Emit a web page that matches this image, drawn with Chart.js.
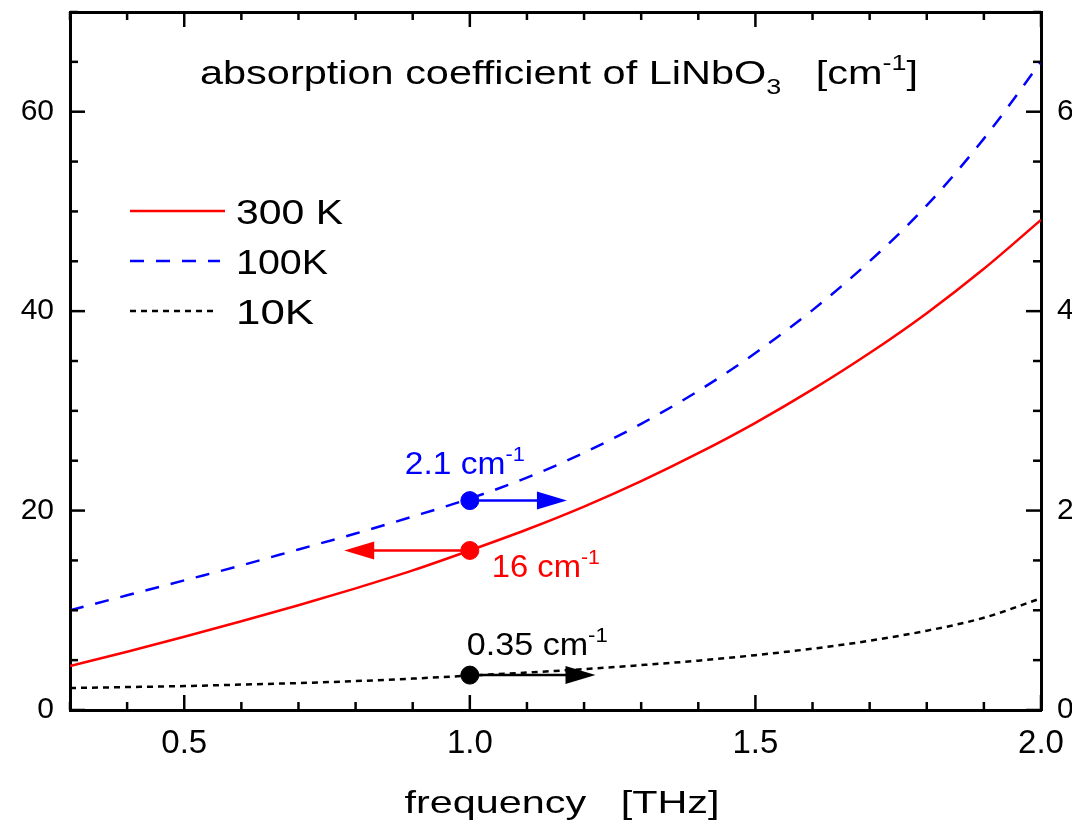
<!DOCTYPE html>
<html>
<head>
<meta charset="utf-8">
<script src="https://cdn.jsdelivr.net/npm/chart.js@4/dist/chart.umd.min.js"></script>
<style>
body { margin: 0; background: #fff; }
</style>
</head>
<body>
<canvas id="myChart" width="1072" height="827"></canvas>
<script>
// values
const freq    = [0.3, 0.4, 0.5, 0.6, 0.7, 0.8, 0.9, 1.0, 1.1, 1.2, 1.3, 1.4, 1.5, 1.6, 1.7, 1.8, 1.9, 2.0];
const abs300K = [4.4, 5.85, 7.35, 8.9, 10.5, 12.2, 14.0, 16.0, 18.1, 20.4, 22.95, 25.75, 28.8, 32.15, 35.8, 39.8, 44.25, 49.15]; // left axis
const abs100K = [1.00, 1.15, 1.30, 1.45, 1.61, 1.77, 1.94, 2.12, 2.33, 2.58, 2.87, 3.20, 3.58, 4.01, 4.50, 5.06, 5.73, 6.50]; // right axis
const abs10K  = [0.22, 0.23, 0.24, 0.255, 0.27, 0.29, 0.315, 0.345, 0.375, 0.41, 0.45, 0.495, 0.55, 0.615, 0.695, 0.795, 0.925, 1.12]; // right axis

const seriesNames  = ['300 K', '100K', '10K'];
const xTicks       = [0.5, 1.0, 1.5, 2.0];
const yLeftTicks   = [0, 20, 40, 60];
const yRightTicks  = [0, 2, 4, 6];

// marked points at 1 THz, arrows point to the axis each curve belongs to
const markFreq   = 1.0;
const markValues = [16, 2.1, 0.35];
const arrowEnds  = [0.78, 1.17, 1.22];
const markTexts  = ['16 cm', '2.1 cm', '0.35 cm'];

const RED = 'rgb(255,0,0)', BLUE = 'rgb(0,0,255)', BLACK = '#000';
const FONT = '"Liberation Sans", Arial, sans-serif';

function pts(ys) {
    return freq.map((f, i) => ({x: f, y: ys[i]}));
}

// text with sub / superscripts, optionally stretched to a given width
function drawRich(ctx, parts, x, y, size, color, width, center) {
    ctx.save();
    ctx.fillStyle = color;
    ctx.textBaseline = 'alphabetic';
    ctx.textAlign = 'left';
    const items = parts.map(p => {
        let s = size, dy = 0;
        if (p.sup) { s = size * 0.65; dy = -size * 0.42; }
        if (p.sub) { s = size * 0.65; dy = size * 0.3; }
        ctx.font = s + 'px ' + FONT;
        return {t: p.t, font: ctx.font, dy: dy, w: ctx.measureText(p.t).width};
    });
    const total = items.reduce((a, b) => a + b.w, 0);
    const sx = width ? width / total : 1;
    ctx.translate(center ? x - total * sx / 2 : x, y);
    ctx.scale(sx, 1);
    let cx = 0;
    items.forEach(it => {
        ctx.font = it.font;
        ctx.fillText(it.t, cx, it.dy);
        cx += it.w;
    });
    ctx.restore();
}

function line(ctx, x1, y1, x2, y2) {
    ctx.beginPath(); ctx.moveTo(x1, y1); ctx.lineTo(x2, y2); ctx.stroke();
}

function noPad(s) {
    s.paddingLeft = 0; s.paddingRight = 0; s.paddingTop = 0; s.paddingBottom = 0;
}

const extras = {
    id: 'extras',
    afterDatasetsDraw(chart) {
        const {ctx, chartArea: a, scales} = chart;
        const xs = scales.x, yl = scales.y, yr = scales.y2;
        ctx.save();

        // inward tick marks on all four sides
        ctx.strokeStyle = BLACK;
        ctx.lineWidth = 2.5;
        for (let i = 3; i <= 20; i++) {
            const px = xs.getPixelForValue(i / 10);
            const len = i % 5 == 0 ? 15 : 8;
            line(ctx, px, a.bottom, px, a.bottom - len);
            line(ctx, px, a.top, px, a.top + len);
        }
        for (let v = 0; v <= 70; v += 5) {
            const len = v % 20 == 0 ? 15 : 8;
            const py = yl.getPixelForValue(v);
            line(ctx, a.left, py, a.left + len, py);
            const pr = yr.getPixelForValue(v / 10);
            line(ctx, a.right, pr, a.right - len, pr);
        }

        // arrows from the marked points
        const colors = [RED, BLUE, BLACK];
        const axes = [yl, yr, yr];
        markValues.forEach((v, i) => {
            const x0 = xs.getPixelForValue(markFreq);
            const x1 = xs.getPixelForValue(arrowEnds[i]);
            const py = axes[i].getPixelForValue(v);
            const dir = x1 > x0 ? 1 : -1;
            ctx.strokeStyle = colors[i];
            ctx.fillStyle = colors[i];
            ctx.lineWidth = 2.5;
            line(ctx, x0, py, x1 - dir * 25, py);
            ctx.beginPath();
            ctx.moveTo(x1, py);
            ctx.lineTo(x1 - dir * 30, py - 9);
            ctx.lineTo(x1 - dir * 30, py + 9);
            ctx.closePath();
            ctx.fill();
        });

        // labels of the marked points
        const mx = xs.getPixelForValue(markFreq);
        drawRich(ctx, [{t: markTexts[0]}, {t: '-1', sup: true}], mx + 22, yl.getPixelForValue(markValues[0]) + 27, 31, RED, 108);
        drawRich(ctx, [{t: markTexts[1]}, {t: '-1', sup: true}], mx - 65, yr.getPixelForValue(markValues[1]) - 27, 31, BLUE, 120);
        drawRich(ctx, [{t: markTexts[2]}, {t: '-1', sup: true}], mx - 3, yr.getPixelForValue(markValues[2]) - 20, 31, BLACK, 141);

        // title inside the frame
        drawRich(ctx, [{t: 'absorption coefficient of LiNbO'}, {t: '3', sub: true}, {t: '   [cm'}, {t: '-1', sup: true}, {t: ']'}],
            200, 84, 34, BLACK, 718);

        // x axis title
        drawRich(ctx, [{t: 'frequency   [THz]'}], 562, 813, 32, BLACK, 315, true);

        // legend
        const dashes = [[], [14, 12], [6, 5]];
        const lens = [95, 90, 88];
        const textW = [107, 92, 78];
        seriesNames.forEach((n, i) => {
            const ly = 211 + i * 50;
            ctx.strokeStyle = colors[i];
            ctx.lineWidth = 2.5;
            ctx.setLineDash(dashes[i]);
            line(ctx, 130, ly, 130 + lens[i], ly);
            ctx.setLineDash([]);
            drawRich(ctx, [{t: n}], 236, ly + 13, 35, BLACK, textW[i]);
        });
        ctx.restore();
    }
};

const ctx = document.getElementById('myChart').getContext('2d');
const myChart = new Chart(ctx, {
    type: 'line',
    data: {
        datasets: [{
            label: seriesNames[0],
            data: pts(abs300K),
            yAxisID: 'y',
            borderColor: RED,
            borderWidth: 2.5
        }, {
            label: seriesNames[1],
            data: pts(abs100K),
            yAxisID: 'y2',
            borderColor: BLUE,
            borderWidth: 2.5,
            borderDash: [14, 12]
        }, {
            label: seriesNames[2],
            data: pts(abs10K),
            yAxisID: 'y2',
            borderColor: BLACK,
            borderWidth: 2.5,
            borderDash: [6, 5]
        }, {
            type: 'scatter',
            data: [{x: markFreq, y: markValues[0]}],
            yAxisID: 'y',
            backgroundColor: RED,
            borderColor: RED,
            pointRadius: 9
        }, {
            type: 'scatter',
            data: [{x: markFreq, y: markValues[1]}],
            yAxisID: 'y2',
            backgroundColor: BLUE,
            borderColor: BLUE,
            pointRadius: 9
        }, {
            type: 'scatter',
            data: [{x: markFreq, y: markValues[2]}],
            yAxisID: 'y2',
            backgroundColor: BLACK,
            borderColor: BLACK,
            pointRadius: 9
        }]
    },
    options: {
        responsive: false,
        animation: false,
        devicePixelRatio: 1,
        layout: { padding: 0 },
        elements: {
            line: { cubicInterpolationMode: 'monotone', fill: false },
            point: { radius: 0 }
        },
        plugins: {
            legend: { display: false },
            tooltip: { enabled: false }
        },
        scales: {
            x: {
                type: 'linear', position: 'bottom', min: 0.3, max: 2.0,
                afterBuildTicks: s => { s.ticks = xTicks.map(v => ({value: v})); },
                afterFit: s => { s.height = 117; noPad(s); },
                grid: { display: false, drawTicks: false },
                border: { color: BLACK, width: 3 },
                ticks: { color: BLACK, padding: 14, maxRotation: 0, font: { family: FONT, size: 33 }, callback: v => v.toFixed(1) }
            },
            xTop: {
                type: 'linear', position: 'top', min: 0.3, max: 2.0,
                afterFit: s => { s.height = 12; noPad(s); },
                grid: { display: false, drawTicks: false },
                border: { color: BLACK, width: 3 },
                ticks: { display: false }
            },
            y: {
                type: 'linear', position: 'left', min: 0, max: 70,
                afterBuildTicks: s => { s.ticks = yLeftTicks.map(v => ({value: v})); },
                afterFit: s => { s.width = 70; noPad(s); },
                grid: { display: false, drawTicks: false },
                border: { color: BLACK, width: 3 },
                ticks: { color: BLACK, padding: 16, font: { family: FONT, size: 30 } }
            },
            y2: {
                type: 'linear', position: 'right', min: 0, max: 7,
                afterBuildTicks: s => { s.ticks = yRightTicks.map(v => ({value: v})); },
                afterFit: s => { s.width = 31; noPad(s); },
                grid: { display: false, drawTicks: false },
                border: { color: BLACK, width: 3 },
                ticks: { color: BLACK, padding: 16, font: { family: FONT, size: 30 } }
            }
        }
    },
    plugins: [extras]
});
</script>
</body>
</html>
